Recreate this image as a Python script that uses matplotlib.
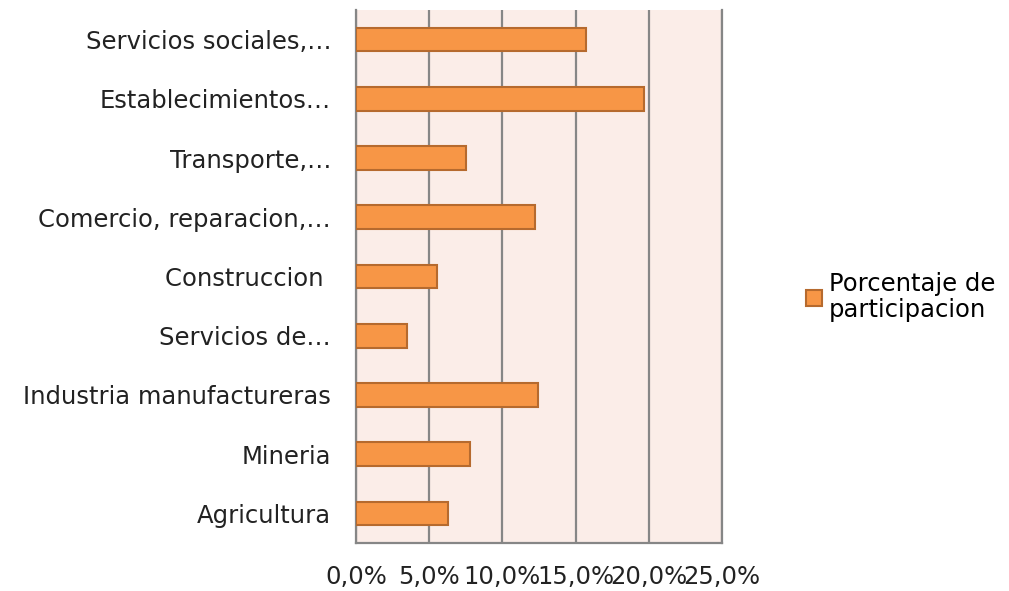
import matplotlib.pyplot as plt
from matplotlib.ticker import FuncFormatter

plt.rcParams['font.family'] = ['DejaVu Sans']

# data (bottom to top)
sectores = ['Agricultura', 'Mineria', 'Industria manufactureras', 'Servicios de…',
            'Construccion ', 'Comercio, reparacion,…', 'Transporte,…',
            'Establecimientos…', 'Servicios sociales,…']
porcentaje = [6.3, 7.8, 12.4, 3.5, 5.5, 12.2, 7.5, 19.7, 15.7]
ticks = [0, 5, 10, 15, 20, 25]

fig = plt.figure(figsize=(10.09, 5.91), dpi=100)
ax = fig.add_axes([356/1009, 1-543/591, (722-356)/1009, (543-10)/591])
ax.set_facecolor('#FBEDE8')

ax.barh(range(len(sectores)), porcentaje, height=0.4, color='#F79646',
        edgecolor='#B66A2E', linewidth=1.5, label='Porcentaje de\nparticipacion', zorder=3)

ax.set_xlim(0, 25)
ax.set_ylim(-0.5, len(sectores)-0.5)
ax.set_xticks(ticks)
ax.xaxis.set_major_formatter(FuncFormatter(lambda v, p: ('%.1f%%' % v).replace('.', ',')))
ax.set_yticks(range(len(sectores)))
ax.set_yticklabels(sectores)
ax.tick_params(axis='both', length=0, labelsize=17.5, colors='#222222')
ax.tick_params(axis='y', pad=18)
ax.tick_params(axis='x', pad=16)
ax.grid(axis='x', color='#868686', linewidth=1.6, zorder=0)
ax.spines['top'].set_visible(False)
for s in ['left', 'bottom', 'right']:
    ax.spines[s].set_color('#868686')
    ax.spines[s].set_linewidth(1.6)

leg = fig.legend(loc='center left', bbox_to_anchor=(784/1009, 1-297/591), frameon=False,
                 fontsize=17.5, handlelength=0.65, handleheight=0.65, handletextpad=0.3)
leg.get_texts()[0].set_linespacing(1.15)

fig.savefig('out.png', dpi=100)
